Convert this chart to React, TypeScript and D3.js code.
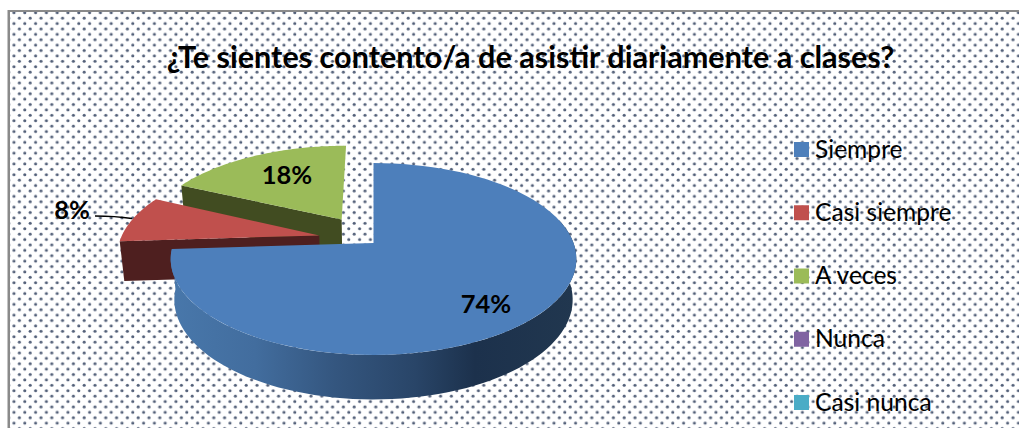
import React from "react";
import * as d3 from "d3";

const title = "¿Te sientes contento/a de asistir diariamente a clases?";
const categories = ["Siempre", "Casi siempre", "A veces", "Nunca", "Casi nunca"];
const percents = [74, 8, 18, 0, 0];
const topColors = ["#4d7fbb", "#c0504d", "#9bbb59", "#8064a2", "#4bacc6"];
const wallColors = ["#2f5079", "#4e1f1f", "#414c21", "#4c3b61", "#2d6776"];
const explode = [0, 0.28, 0.31, 0, 0];
const explodeLift = [0, 0.03, 0, 0, 0];

const W = 1019, H = 428;
const cx = 373.5, cy = 243, rx = 200, ry = 93.3, persp = 1 / 6;

type P = [number, number];
// perspective projection of a point in the pie's unit plane
const proj = (u: number, v: number): P => {
  const w = 1 + persp * v;
  return [cx + (rx * u) / w, cy - (ry * v) / w];
};
// the underside of the disc
const drop = ([x, y]: P): P => [cx + (x - cx) * 0.982, cy + 40 + (y - cy) * 1.04];

const arcs = d3.pie<number>().sort(null).startAngle(0).endAngle(2 * Math.PI)(percents);
const lineGen = d3.line<P>();

const rimPoints = (a0: number, a1: number, d: number, mid: number, lift: number): P[] =>
  d3.range(0, 81).map((i) => {
    const a = a0 + ((a1 - a0) * i) / 80;
    return proj(Math.sin(a) + d * Math.sin(mid), Math.cos(a) + d * Math.cos(mid) + lift);
  });

const legendY = d3.scalePoint<string>().domain(categories).range([149.5, 402.5]);

const font = "Lato, Carlito, Calibri, sans-serif";

export default function App() {
  const slices = arcs.map((s, i) => {
    const mid = (s.startAngle + s.endAngle) / 2;
    const d = explode[i];
    const lift = explodeLift[i];
    const apex = proj(d * Math.sin(mid), d * Math.cos(mid) + lift);
    const rim = s.value > 0 ? rimPoints(s.startAngle, s.endAngle, d, mid, lift) : [];
    return { i, s, mid, d, apex, rim };
  });
  const [blue, red, green] = slices;
  const blueWallTop = rimPoints((75 * Math.PI) / 180, blue.s.endAngle, 0, 0, 0);
  const blueWall = [...blueWallTop, ...blueWallTop.map(drop).reverse()];
  const cutWall = (sl: typeof red) => {
    const a = sl.rim[0];
    return [a, sl.apex, drop(sl.apex), drop(a)] as P[];
  };
  const top = (sl: typeof red) => lineGen([sl.apex, ...sl.rim])! + "Z";

  return (
    <svg width={W} height={H} style={{ position: "absolute", left: 0, top: 0 }} fontFamily={font}>
      <defs>
        <pattern id="dots" width={10.8} height={10.8} patternUnits="userSpaceOnUse"
          patternTransform="translate(11.3 10)">
          <circle cx={2.7} cy={2.7} r={1.55} fill="#525f78" />
          <circle cx={8.1} cy={8.1} r={1.55} fill="#525f78" />
        </pattern>
        <linearGradient id="blueWall" gradientUnits="userSpaceOnUse" x1={175} x2={575} y1={0} y2={0}>
          <stop offset="0" stopColor="#4877aa" />
          <stop offset="0.2" stopColor="#426d9e" />
          <stop offset="0.4" stopColor="#34567f" />
          <stop offset="0.6" stopColor="#294568" />
          <stop offset="0.75" stopColor="#1c314c" />
          <stop offset="1" stopColor="#21374f" />
        </linearGradient>
      </defs>
      <rect width={W} height={H} fill="#fff" />
      <rect x={9} y={11} width={W - 9} height={H - 11} fill="url(#dots)" />
      <rect x={8} y={10} width={W - 8} height={2} fill="#8a8a8a" />
      <rect x={7.5} y={10} width={2.5} height={H - 10} fill="#8a8a8a" />

      <text x={530.5} y={68} textAnchor="middle" fontSize={30.6} fontWeight={700} fill="#000">{title}</text>

      {/* green slice */}
      <path d={lineGen(cutWall(green))! + "Z"} fill={wallColors[2]} />
      <path d={top(green)} fill={topColors[2]} />
      {/* red slice */}
      <path d={lineGen(cutWall(red))! + "Z"} fill={wallColors[1]} />
      <path d={top(red)} fill={topColors[1]} />
      {/* blue slice */}
      <path d={lineGen(blueWall)! + "Z"} fill="url(#blueWall)" />
      <path d={top(blue)} fill={topColors[0]} />

      <path d="M95 216Q115 216 132 218.5" fill="none" stroke="#000" strokeWidth={1.3} />

      <g fontSize={25.5} fontWeight={700} fill="#000" textAnchor="middle">
        <text x={486} y={313}>{percents[0]}%</text>
        <text x={72} y={219}>{percents[1]}%</text>
        <text x={287} y={184}>{percents[2]}%</text>
      </g>

      {categories.map((c, i) => {
        const y = legendY(c)!;
        return (
          <g key={c}>
            <rect x={794} y={y - 7.5} width={15} height={15} fill={topColors[i]} />
            <text x={815} y={y + 8} fontSize={24.6} fill="#000">{c}</text>
          </g>
        );
      })}
    </svg>
  );
}
